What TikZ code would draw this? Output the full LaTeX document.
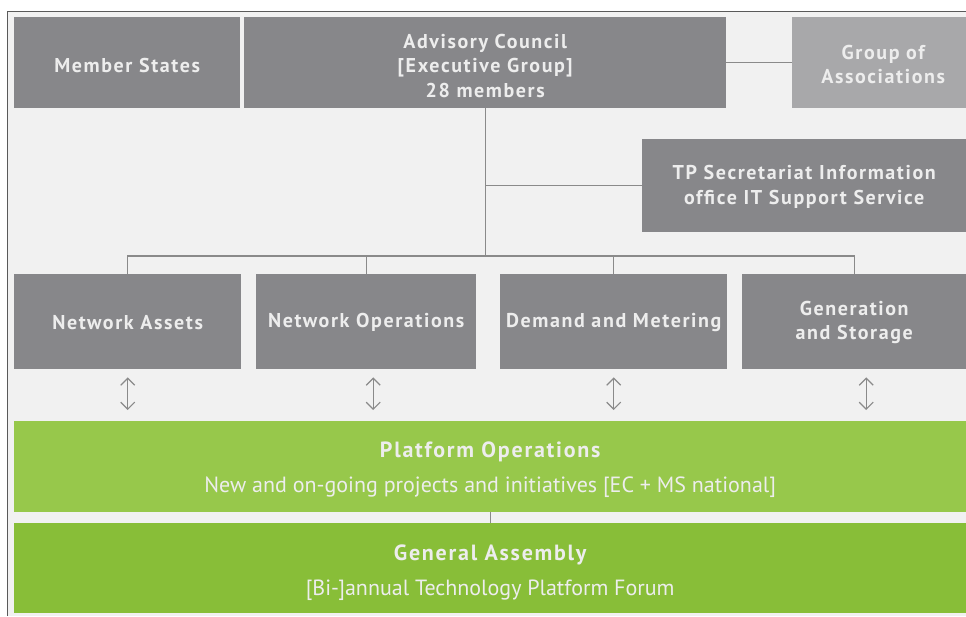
\documentclass[tikz,border=0pt]{standalone}
\usepackage{fontspec}
\setmainfont{PT Sans}
\newfontfamily\trackfont{PT Sans}[LetterSpace=8]
\usetikzlibrary{arrows.meta,calc}
\definecolor{bgc}{HTML}{F1F1F1}
\definecolor{bordc}{HTML}{5A5A5A}
\definecolor{boxgray}{HTML}{87878A}
\definecolor{lightgray}{HTML}{A8A8AA}
\definecolor{linegray}{HTML}{8A8A8A}
\definecolor{txtc}{HTML}{EDEDED}
\definecolor{greenA}{HTML}{97C84B}
\definecolor{greenB}{HTML}{88BE38}
\begin{document}
\begin{tikzpicture}[x=1pt,y=-1pt,
  box/.style={fill=boxgray, draw=none, inner sep=0pt, anchor=north west},
  lbox/.style={box, fill=lightgray},
  btxt/.style={inner sep=0pt, align=center, text=txtc, font=\trackfont\bfseries\fontsize{20}{24.5}\selectfont},
  gtxt/.style={inner sep=0pt, align=center, text=txtc, font=\fontsize{22}{35}\selectfont},
  conn/.style={draw=linegray, line width=1.3pt},
  dbl/.style={draw=linegray, line width=1.2pt, {Straight Barb[length=7pt,width=14pt]}-{Straight Barb[length=7pt,width=14pt]}}]
\useasboundingbox (0,0) rectangle (966,616);
\fill[white] (0,0) rectangle (966,616);
\fill[bgc] (7,11) rectangle (966,616);
\draw[bordc, line width=1pt] (7,616) -- (7,11) -- (966,11);

% top row
\node[box, minimum width=226pt, minimum height=91pt] (ms) at (14,17) {};
\node[box, minimum width=482pt, minimum height=91pt] (ac) at (244,17) {};
\node[lbox, minimum width=174pt, minimum height=91pt] (goa) at (792,17) {};
\node[box, minimum width=324pt, minimum height=93pt] (tp) at (642,139) {};
\node[btxt] (mst) at ($(ms.center)+(0,3)$) {Member States};
\node[btxt] (act) at ($(ac.center)+(0,3)$) {Advisory Council\\{[}Executive Group{]}\\28 members};
\node[btxt] (goat) at ($(goa.center)+(4,2)$) {Group of\\Associations};
\node[btxt] (tpt) at ($(tp.center)+(0,1)$) {TP Secretariat Information\\office IT Support Service};

% second row
\node[box, minimum width=227pt, minimum height=95pt] (na) at (14,274) {};
\node[box, minimum width=220pt, minimum height=95pt] (no) at (256,274) {};
\node[box, minimum width=227pt, minimum height=95pt] (dm) at (500,274) {};
\node[box, minimum width=224pt, minimum height=95pt] (gs) at (742,274) {};
\node[btxt] (nat) at ($(na.center)+(0,1)$) {Network Assets};
\node[btxt] (not) at ($(no.center)+(0,1)$) {Network Operations};
\node[btxt] (dmt) at ($(dm.center)+(0,1)$) {Demand and Metering};
\node[btxt] (gst) at ($(gs.center)+(0,1)$) {Generation\\and Storage};

% green bars
\node[box, fill=greenA, minimum width=952pt, minimum height=91pt] (po) at (14,421) {};
\node[box, fill=greenB, minimum width=952pt, minimum height=90pt] (ga) at (14,523) {};
\node[gtxt] (pot) at ($(po.center)+(0,3)$)
  {{\trackfont\bfseries Platform Operations}\\New and on-going projects and initiatives {[}EC + MS national{]}};
\node[gtxt] (gat) at ($(ga.center)+(0,4)$)
  {{\trackfont\bfseries General Assembly}\\{[}Bi-{]}annual Technology Platform Forum};

% connectors
\coordinate (bus) at (486,256);
\draw[conn] (ac.east) -- (goa.west);
\draw[conn] (ac.south) -- (ac.south |- bus);
\draw[conn] (ac.south |- tp.west) -- (tp.west);
\draw[conn] (na.north) -- (na.north |- bus) -- (gs.north |- bus) -- (gs.north);
\draw[conn] (no.north) -- (no.north |- bus);
\draw[conn] (dm.north) -- (dm.north |- bus);
\draw[conn] (po.south) -- (ga.north);

% double arrows
\draw[dbl] ($(na.south)+(0,8)$) -- ($(na.south |- po.north)+(0,-11)$);
\draw[dbl] ($(no.south)+(7,8)$) -- ($(no.south |- po.north)+(7,-11)$);
\draw[dbl] ($(dm.south)+(0,8)$) -- ($(dm.south |- po.north)+(0,-11)$);
\draw[dbl] ($(gs.south)+(12,8)$) -- ($(gs.south |- po.north)+(12,-11)$);
\end{tikzpicture}
\end{document}
